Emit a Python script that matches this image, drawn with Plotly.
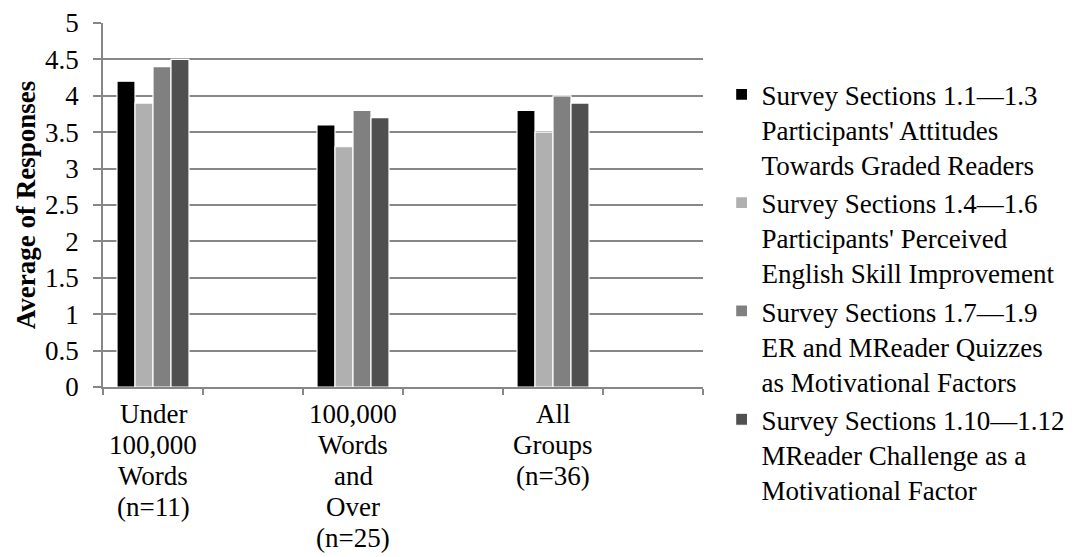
import plotly.graph_objects as go

# Groups of readers (each entry is the wrapped label, one item per line)
group_labels = [
    ["Under", "100,000", "Words", "(n=11)"],
    ["100,000", "Words", "and", "Over", "(n=25)"],
    ["All", "Groups", "(n=36)"],
]

# Survey sections (legend names, wrapped)
series_names = [
    "Survey Sections 1.1\u20141.3<br>Participants' Attitudes<br>Towards Graded Readers",
    "Survey Sections 1.4\u20141.6<br>Participants' Perceived<br>English Skill Improvement",
    "Survey Sections 1.7\u20141.9<br>ER and MReader Quizzes<br>as Motivational Factors",
    "Survey Sections 1.10\u20141.12<br>MReader Challenge as a<br>Motivational Factor",
]

# Average of responses per group
attitudes = [4.2, 3.6, 3.8]
skill_improvement = [3.9, 3.3, 3.5]
quizzes_motivation = [4.4, 3.8, 4.0]
challenge_motivation = [4.5, 3.7, 3.9]

series_values = [attitudes, skill_improvement, quizzes_motivation, challenge_motivation]
series_colors = ["#000000", "#b0b0b0", "#808080", "#505050"]

FONT = "Liberation Serif"
AXIS_GREY = "#878787"

# Each group occupies every other slot on the category axis
positions = [2 * i for i in range(len(group_labels))]

fig = go.Figure()
for name, vals, color in zip(series_names, series_values, series_colors):
    fig.add_trace(go.Bar(
        x=positions,
        y=vals,
        name=name,
        legendgroup=name,
        marker=dict(color=color, line=dict(color="white", width=1.2)),
    ))

# Multi-line category labels under the axis
annotations = []
line_pitch = 31
for pos, lines in zip(positions, group_labels):
    for i, line in enumerate(lines):
        annotations.append(dict(
            x=pos, y=0, xref="x", yref="y",
            text=line, showarrow=False,
            xanchor="center", yanchor="middle",
            yshift=-(27 + i * line_pitch),
            font=dict(family=FONT, size=27, color="black"),
        ))

n_slots = 2 * len(group_labels)
fig.update_layout(
    width=1075, height=557,
    margin=dict(l=103, r=372, t=23, b=170, autoexpand=False),
    paper_bgcolor="white", plot_bgcolor="white",
    barmode="group", bargap=0.64, bargroupgap=0,
    font=dict(family=FONT, size=27, color="black"),
    showlegend=True,
    legend=dict(
        x=1.031, y=0.870, xanchor="left", yanchor="top",
        font=dict(family=FONT, size=27, color="black"),
        valign="top", tracegroupgap=0, itemwidth=30,
        maxheight=700,
        bgcolor="rgba(0,0,0,0)",
    ),
    annotations=annotations,
    xaxis=dict(
        range=[-0.5, n_slots - 0.5],
        tickvals=[k - 0.5 for k in range(n_slots + 1)],
        showticklabels=False,
        ticks="outside", ticklen=6, tickwidth=1.5, tickcolor=AXIS_GREY,
        showline=True, linecolor=AXIS_GREY, linewidth=1.5,
        showgrid=False, zeroline=False,
    ),
    yaxis=dict(
        range=[0, 5], dtick=0.5, tick0=0,
        ticks="outside", ticklen=8, tickwidth=1.5, tickcolor=AXIS_GREY,
        showline=True, linecolor=AXIS_GREY, linewidth=1.5,
        showgrid=True, gridcolor=AXIS_GREY, gridwidth=1.5,
        zeroline=False,
        ticklabelstandoff=9,
        tickfont=dict(family=FONT, size=27, color="black"),
        title=dict(
            text="<b>Average of Responses</b>",
            font=dict(family=FONT, size=27, color="black"),
            standoff=2,
        ),
    ),
)

fig.write_html("out.html")
